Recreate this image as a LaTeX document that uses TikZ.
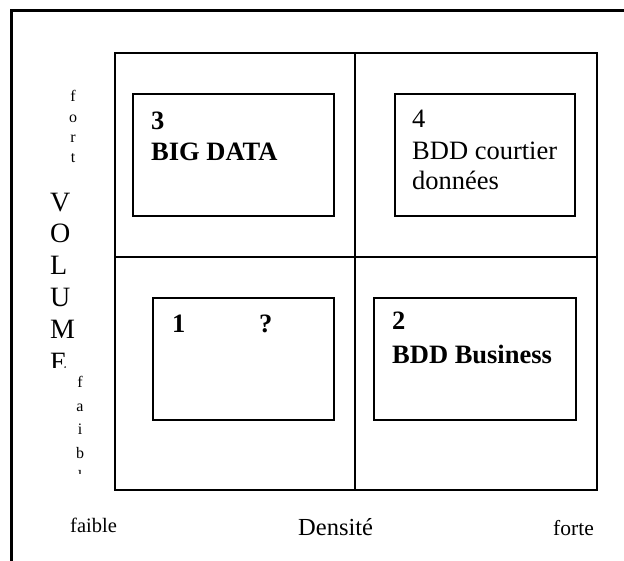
\documentclass[tikz,border=0pt]{standalone}
\usepackage{fontspec}
\setmainfont{Liberation Serif}
\begin{document}
\begin{tikzpicture}[x=1pt,y=-1pt,
  frameline/.style={line width=3pt},
  gridline/.style={line width=1.4pt},
  qbox/.style={draw,line width=1.4pt,inner sep=0pt},
  btxt/.style={anchor=base west,inner sep=0pt,font=\fontsize{26.5}{31}\selectfont},
  bbtxt/.style={btxt,font=\fontsize{26.5}{31}\selectfont\bfseries},
  smalltxt/.style={anchor=base,inner sep=0pt,font=\fontsize{16}{18}\selectfont},
  bigtxt/.style={anchor=base west,inner sep=0pt,font=\fontsize{28}{32}\selectfont},
  axtxt/.style={anchor=base west,inner sep=0pt}]
\useasboundingbox (0,0) rectangle (624,561);
% outer frame (open on right and bottom)
\coordinate (fTR) at (624,11);
\coordinate (fTL) at (11,11);
\coordinate (fBL) at (11,561);
\draw[frameline] (fTR) -- (fTL) -- (fBL);
% grid
\node[qbox,minimum width=482pt,minimum height=437pt] (grid) at (356,271.5) {};
\coordinate (vt) at (355,53);
\coordinate (vb) at (355,490);
\coordinate (hl) at (115,257);
\coordinate (hr) at (597,257);
\draw[gridline] (vt) -- (vb);
\draw[gridline] (hl) -- (hr);
% boxes
\node[qbox,minimum width=201pt,minimum height=122pt] (b3) at (233.5,155) {};
\node[qbox,minimum width=180pt,minimum height=122pt] (b4) at (485,155) {};
\node[qbox,minimum width=181pt,minimum height=122pt] (b1) at (243.5,359) {};
\node[qbox,minimum width=202pt,minimum height=122pt] (b2) at (475,359) {};
% box texts
\node[bbtxt] (t3a) at (151,130) {3};
\node[bbtxt] (t3b) at (151,161) {BIG DATA};
\node[btxt] (t4a) at (412,128) {4};
\node[btxt] (t4b) at (412,160) {BDD courtier};
\node[btxt] (t4c) at (412,190) {données};
\node[bbtxt] (t1a) at (172,333) {1};
\node[bbtxt] (t1b) at (259,333) {?};
\node[bbtxt] (t2a) at (392,330) {2};
\node[bbtxt] (t2b) at (392,363) {BDD Business};
% vertical axis labels
\node[smalltxt] (f1) at (73,102) {f};
\node[smalltxt] (f2) at (73,123) {o};
\node[smalltxt] (f3) at (73,143) {r};
\node[smalltxt] (f4) at (73,163) {t};
\begin{scope}
\clip (30,180) rectangle (112,367.5);
\node[bigtxt] (v1) at (50,212) {V};
\node[bigtxt] (v2) at (50,243) {O};
\node[bigtxt] (v3) at (50,275) {L};
\node[bigtxt] (v4) at (50,307) {U};
\node[bigtxt] (v5) at (50,339) {M};
\node[bigtxt] (v6) at (50,371) {E};
\end{scope}
\begin{scope}
\clip (60,370) rectangle (112,473);
\node[smalltxt] (w1) at (80,388) {f};
\node[smalltxt] (w2) at (80,411) {a};
\node[smalltxt] (w3) at (80,434) {i};
\node[smalltxt] (w4) at (80,458) {b};
\node[smalltxt] (w5) at (80,481) {l};
\end{scope}
% horizontal axis labels
\node[axtxt,font=\fontsize{20.5}{24}\selectfont] (hx1) at (70,532) {faible};
\begin{scope}
\clip (200,500) rectangle (624,535.5);
\node[axtxt,font=\fontsize{24.5}{28}\selectfont] (hx2) at (298,535) {Densité};
\node[axtxt,font=\fontsize{21.5}{25}\selectfont] (hx3) at (553,535) {forte};
\end{scope}
\end{tikzpicture}
\end{document}
